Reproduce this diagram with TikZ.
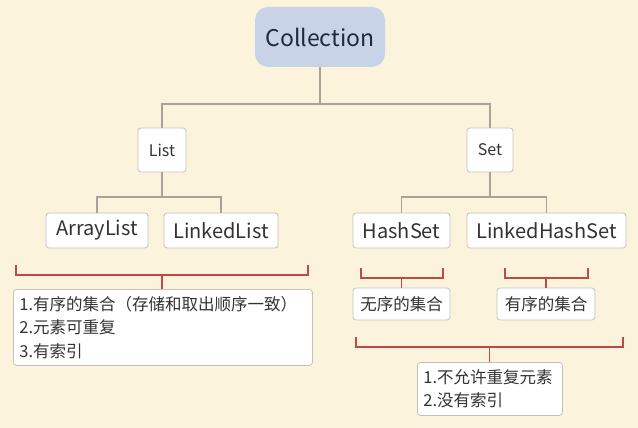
\documentclass[tikz,border=0pt]{standalone}
\usepackage{fontspec}
\setmainfont{Noto Sans CJK SC}
\definecolor{bgc}{HTML}{FBF3DC}
\definecolor{collfill}{HTML}{C8D3E7}
\definecolor{linec}{HTML}{A9A29B}
\definecolor{redc}{HTML}{BE4A45}
\definecolor{boxline}{HTML}{C4C1BC}
\definecolor{txt}{HTML}{333333}
\definecolor{colltxt}{HTML}{1E2A40}
\tikzset{
  root/.style={rounded corners=13pt, fill=collfill, draw=none, text=colltxt, font=\fontsize{23}{26}\selectfont, minimum width=130pt, minimum height=60pt, inner sep=0pt},
  wbox/.style={rounded corners=3pt, fill=white, draw=boxline, line width=0.8pt, text=txt, inner sep=0pt},
  midbox/.style={wbox, font=\fontsize{16}{18}\selectfont},
  leafbox/.style={wbox, font=\fontsize{20}{22}\selectfont, minimum height=35pt},
  notebox/.style={wbox, font=\fontsize{16.5}{23.5}\selectfont, align=left, inner xsep=6pt, inner ysep=5pt, anchor=north west},
  conn/.style={draw=linec, line width=1.8pt},
  brk/.style={draw=redc, line width=1.3pt},
}
\begin{document}
\begin{tikzpicture}[x=1pt,y=-1pt]
\useasboundingbox[fill=bgc] (0,0) rectangle (638,428);
% nodes
\node[root] (coll) at (320,37) {Collection};
\node[midbox, minimum width=48pt, minimum height=44pt] (list) at (162,150) {List};
\node[midbox, minimum width=46pt, minimum height=44pt] (set) at (490,150) {Set};
\node[leafbox, minimum width=102pt] (al) at (97,230.5) {ArrayList};
\node[leafbox, minimum width=114pt] (ll) at (221,230.5) {LinkedList};
\node[leafbox, minimum width=97pt] (hs) at (401.5,230.5) {HashSet};
\node[leafbox, minimum width=159pt] (lhs) at (546.5,230.5) {LinkedHashSet};
\node[wbox, font=\fontsize{16.5}{18}\selectfont, minimum width=97pt, minimum height=32pt] (unord) at (401.5,304) {无序的集合};
\node[wbox, font=\fontsize{16.5}{18}\selectfont, minimum width=98pt, minimum height=32pt] (ord) at (546,304) {有序的集合};
\node[notebox, text width=287pt, minimum height=76pt] (lnote) at (13,289) {1.有序的集合（存储和取出顺序一致）\\2.元素可重复\\3.有索引};
\node[notebox, text width=133pt, minimum height=53pt] (snote) at (417,362) {1.不允许重复元素\\2.没有索引};
% tree connectors
\coordinate (j1) at (320,104);
\coordinate (j2) at (162,197);
\coordinate (j3) at (490,197);
\draw[conn] (coll.south) -- (j1);
\draw[conn] (j1) -| (list.north);
\draw[conn] (j1) -| (set.north);
\draw[conn] (list.south) -- (j2);
\draw[conn] (j2) -| (al.north);
\draw[conn] (j2) -| (ll.north);
\draw[conn] (set.south) -- (j3);
\draw[conn] (j3) -| (hs.north);
\draw[conn] (j3) -| (lhs.north);
% brackets
\coordinate (b1l) at (16,265);
\coordinate (b1r) at (308,265);
\coordinate (b1m) at (162,275);
\draw[brk] (b1l) |- (b1m) -| (b1r);
\draw[brk] (b1m) -- (b1m |- lnote.north);
\coordinate (b2l) at (361,268);
\coordinate (b2r) at (443,268);
\coordinate (b2m) at (401.5,278);
\draw[brk] (b2l) |- (b2m) -| (b2r);
\draw[brk] (b2m) -- (unord.north);
\coordinate (b3l) at (505,268);
\coordinate (b3r) at (588,268);
\coordinate (b3m) at (546,278);
\draw[brk] (b3l) |- (b3m) -| (b3r);
\draw[brk] (b3m) -- (ord.north);
\coordinate (b4l) at (356,337);
\coordinate (b4r) at (623,337);
\coordinate (b4m) at (489.5,347);
\draw[brk] (b4l) |- (b4m) -| (b4r);
\draw[brk] (b4m) -- (b4m |- snote.north);
\end{tikzpicture}
\end{document}
